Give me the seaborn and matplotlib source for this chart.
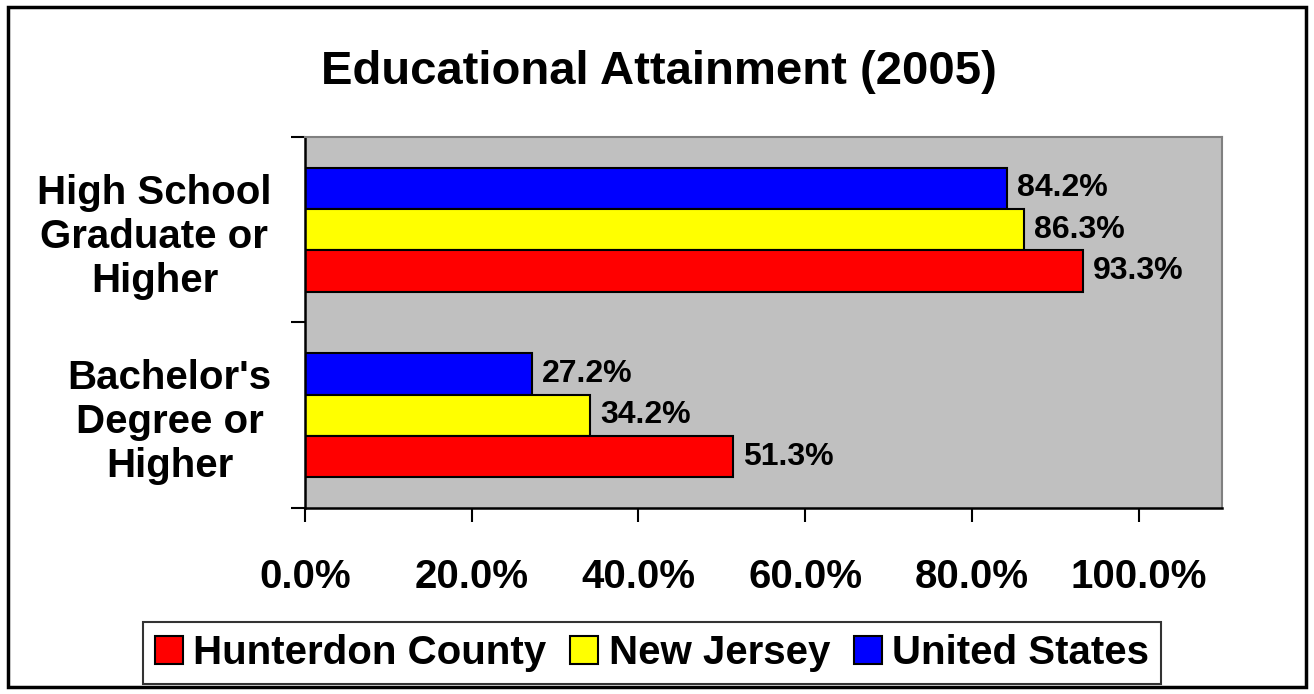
import matplotlib
matplotlib.use("Agg")
import matplotlib.pyplot as plt
import matplotlib.patches as mpatches
import seaborn as sns
import pandas as pd

categories = ["High School\nGraduate or\nHigher", "Bachelor's\nDegree or\nHigher"]
series = ["Hunterdon County", "New Jersey", "United States"]
hunterdon = [93.3, 51.3]
new_jersey = [86.3, 34.2]
united_states = [84.2, 27.2]
colors = {"Hunterdon County": "#FF0000", "New Jersey": "#FFFF00", "United States": "#0000FF"}
x_ticks = [0, 20, 40, 60, 80, 100]
title = "Educational Attainment (2005)"

rows = []
for name, vals in zip(series, [hunterdon, new_jersey, united_states]):
    for c, v in zip(categories, vals):
        rows.append({"cat": c, "series": name, "value": v})
df = pd.DataFrame(rows)

sns.set_theme(style="white")
plt.rcParams["font.family"] = ["Liberation Sans", "DejaVu Sans"]
plt.rcParams["font.weight"] = "bold"
plt.rcParams["text.color"] = "black"
plt.rcParams["xtick.color"] = "black"
plt.rcParams["ytick.color"] = "black"
plt.rcParams["xtick.labelcolor"] = "black"
plt.rcParams["ytick.labelcolor"] = "black"

fig = plt.figure(figsize=(13.14, 6.94), dpi=100)
ax = fig.add_axes([305/1314, 1-508/694, (1222-305)/1314, (508-137)/694])

hue_order = ["United States", "New Jersey", "Hunterdon County"]
sns.barplot(data=df, y="cat", x="value", hue="series", hue_order=hue_order,
            order=categories, palette=colors, width=0.67, orient="h",
            edgecolor="black", linewidth=1.5, saturation=1, ax=ax, legend=False)

ax.set_facecolor("#C0C0C0")
ax.set_xlim(0, 110)
ax.set_ylim(1.5, -0.5)
ax.set_xlabel("")
ax.set_ylabel("")

# data labels
for cont in ax.containers:
    for bar in cont:
        w = bar.get_width()
        ax.text(w + 1.2, bar.get_y() + bar.get_height()/2, f"{w:.1f}%",
                va="center", ha="left", fontsize=23, fontweight="bold", color="black")

# x ticks
ax.set_xticks(x_ticks)
ax.set_xticklabels([f"{t:.1f}%" for t in x_ticks], fontsize=29, fontweight="bold", color="black")
ax.tick_params(axis="x", length=10, width=1.5, color="black", pad=26, bottom=True, direction="out")

# y ticks: major at boundaries, labels at centers
ax.set_yticks([-0.5, 0.5, 1.5])
ax.set_yticklabels(["", "", ""])
ax.set_yticks([0, 1], minor=True)
ax.set_yticklabels(categories, minor=True, fontsize=29, fontweight="bold", color="black")
for lbl in ax.get_yticklabels(minor=True):
    lbl.set_multialignment("center")
ax.tick_params(axis="y", which="major", length=10, width=1.5, color="black", left=True, direction="out")
ax.tick_params(axis="y", which="minor", length=0, pad=24, left=True)

for side in ["left", "bottom"]:
    ax.spines[side].set_color("black")
    ax.spines[side].set_linewidth(1.8)
for side in ["top", "right"]:
    ax.spines[side].set_color("#808080")
    ax.spines[side].set_linewidth(1.5)

fig.text(0.5015, 1-72/694, title, ha="center", va="center", fontsize=34, fontweight="bold", color="black")

handles = [mpatches.Patch(facecolor=colors[s], edgecolor="black", linewidth=1.5, label=s) for s in series]
leg = fig.legend(handles=handles, loc="center", bbox_to_anchor=(652/1314, 1-653/694), ncol=3,
                 fontsize=29, frameon=True, fancybox=False, edgecolor="black",
                 handlelength=0.7, handleheight=0.7, handletextpad=0.25, columnspacing=0.6,
                 borderpad=0.3, borderaxespad=0)
leg.get_frame().set_linewidth(1.5)
for t in leg.get_texts():
    t.set_fontweight("bold")
    t.set_color("black")

fig.patches.append(mpatches.Rectangle((8/1314, 1-687/694), (1306-8)/1314, (687-7)/694,
                                      transform=fig.transFigure, fill=False, edgecolor="black", linewidth=2.5))

fig.savefig("out.png", dpi=100, facecolor="white")
